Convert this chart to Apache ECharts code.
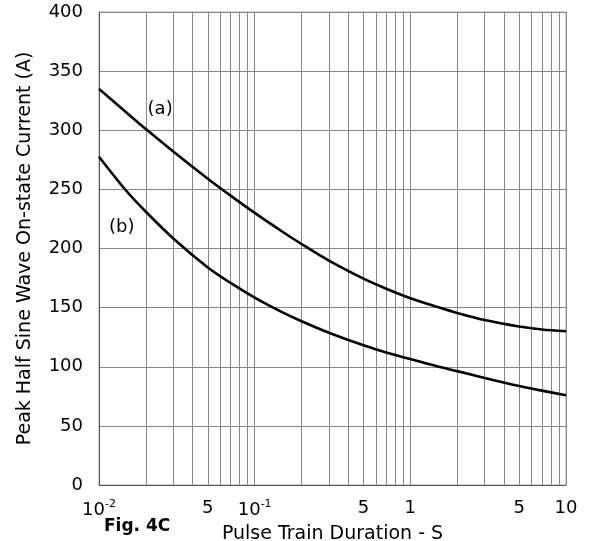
<!DOCTYPE html>
<html>
<head>
<meta charset="utf-8">
<script src="https://cdn.jsdelivr.net/npm/echarts@6/dist/echarts.min.js"></script>
<style>
html,body{margin:0;padding:0;background:#fff;}
#c{width:590px;height:541px;}
</style>
</head>
<body>
<div id="c"></div>
<script>
// Pulse train duration (s), shared x positions for both curves
var xDur = [0.01, 0.015, 0.02, 0.03, 0.05, 0.07, 0.1, 0.15, 0.2, 0.3, 0.5, 0.7, 1, 1.5, 2, 3, 5, 7, 10];
// Curve (a) peak current (A)
var yA = [335, 315, 301, 282, 259, 244.7, 230.1, 214.4, 203.8, 189.7, 174.5, 166, 158, 150.5, 145.5, 139.5, 134, 131.5, 130];
// Curve (b) peak current (A)
var yB = [277.6, 248.6, 231.1, 208.5, 184, 170.9, 158.5, 146.2, 138.5, 128.8, 118.1, 112, 106.5, 100.2, 96.3, 90.5, 83.7, 79.8, 75.9];
// Tick labels
var xTickValues = [0.01, 0.05, 0.1, 0.5, 1, 5, 10];
var xTickTexts = ['{b|10}{s|-2}', '5', '{b|10}{s|-1}', '5', '1', '5', '10'];
var xGridValues = [0.02,0.03,0.04,0.05,0.06,0.07,0.08,0.09,0.2,0.3,0.4,0.5,0.6,0.7,0.8,0.9,2,3,4,5,6,7,8,9];
var curveLabels = ['(a)', '(b)'];

function zip(xs, ys){ return xs.map(function(x,i){ return [x, ys[i]]; }); }

var chart = echarts.init(document.getElementById('c'));
var font = 'DejaVu Sans, Liberation Sans, Arial, sans-serif';
chart.setOption({
  animation: false,
  grid: {left: 99, top: 12, right: 24, bottom: 56, show: true, borderColor: '#aaa', borderWidth: 1,
         outerBoundsMode: 'none', containLabel: false},
  xAxis: {
    type: 'log', logBase: 10, min: 0.01, max: 10,
    name: 'Pulse Train Duration - S', nameLocation: 'middle', nameGap: 33,
    nameTextStyle: {fontFamily: font, fontSize: 19, color: '#000'},
    axisLine: {show: true, lineStyle: {color: '#555'}},
    axisTick: {show: false},
    splitLine: {show: true, lineStyle: {color: '#888', width: 1}},
    axisLabel: {
      customValues: xTickValues,
      margin: 14,
      fontFamily: font, fontSize: 18, color: '#000',
      formatter: function(v){
        for (var i = 0; i < xTickValues.length; i++) {
          if (Math.abs(v - xTickValues[i]) / xTickValues[i] < 1e-6) return xTickTexts[i];
        }
        return '';
      },
      rich: {
        b: {fontFamily: font, fontSize: 18, color: '#000'},
        s: {fontFamily: font, fontSize: 11, color: '#000', padding: [0, 0, 12, 0]}
      }
    }
  },
  yAxis: {
    type: 'value', min: 0, max: 400, interval: 50,
    name: 'Peak Half Sine Wave On-state Current (A)', nameLocation: 'middle', nameGap: 64,
    nameTextStyle: {fontFamily: font, fontSize: 19, color: '#000'},
    axisLine: {show: true, lineStyle: {color: '#555'}},
    axisTick: {show: false},
    splitLine: {show: true, lineStyle: {color: '#888', width: 1}},
    axisLabel: {margin: 16, fontFamily: font, fontSize: 18, color: '#000'}
  },
  graphic: [
    {type: 'text', left: 104, top: 518, style: {text: 'Fig. 4C', font: 'bold 17px ' + font, fill: '#000'}}
  ],
  series: [
    {
      type: 'line', data: zip(xDur, yA), smooth: 0.3, symbol: 'none',
      lineStyle: {color: '#000', width: 2.6}, z: 5,
      markLine: {
        silent: true, symbol: 'none', label: {show: false},
        lineStyle: {color: '#888', width: 1, type: 'solid'},
        data: xGridValues.map(function(v){ return {xAxis: v}; }),
        z: 1
      },
      markPoint: {
        symbol: 'circle', symbolSize: 1, itemStyle: {color: 'transparent'},
        label: {show: true, position: 'inside', fontFamily: font, fontSize: 18, color: '#000'},
        data: [
          {coord: [0.0247, 318], value: curveLabels[0], label: {formatter: curveLabels[0]}},
          {coord: [0.0140, 218], value: curveLabels[1], label: {formatter: curveLabels[1]}}
        ]
      }
    },
    {
      type: 'line', data: zip(xDur, yB), smooth: 0.3, symbol: 'none',
      lineStyle: {color: '#000', width: 2.6}, z: 5
    }
  ]
});
</script>
</body>
</html>
